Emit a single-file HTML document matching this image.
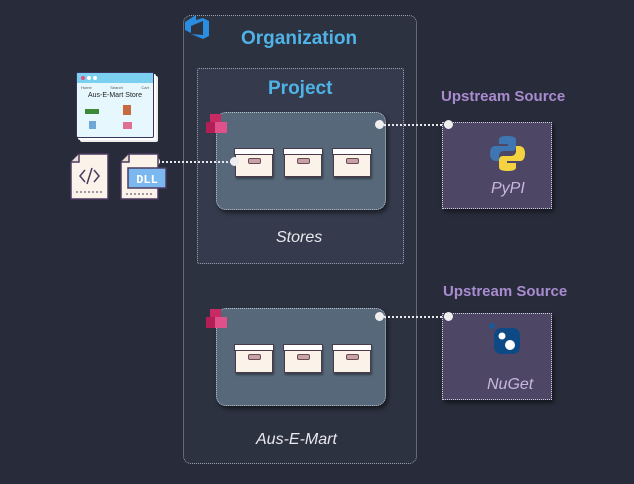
<!DOCTYPE html>
<html><head><style>
body{margin:0;width:634px;height:484px;background:#282c3a;position:relative;overflow:hidden;font-family:"Liberation Sans",sans-serif}
.a{position:absolute;box-sizing:border-box}
.org{left:183px;top:15px;width:234px;height:449px;border:1px dotted #9aa0ad;border-radius:8px;background:#2d3241}
.proj{left:197px;top:68px;width:207px;height:196px;border:1px dotted #9aa0ad;background:#353b4c;border-radius:2px}
.feed{width:170px;height:98px;background:#56687a;border:1px dotted #b8c0c8;border-radius:10px;box-shadow:2px 3px 4px rgba(0,0,0,.5)}
.up{width:110px;height:87px;background:#4e4665;border:1px dotted #cfcfdf;box-shadow:2px 3px 4px rgba(0,0,0,.5)}
.t{position:absolute;font-weight:bold;color:#4fb3e8;font-size:19px}
.ut{position:absolute;font-weight:bold;color:#a98bd0;font-size:15px}
.it{position:absolute;font-style:italic;color:#e8e8ee;font-size:16px}
.box{position:absolute;width:36px;height:27px;background:#fbf3ea;border:1px solid #4a3a4a;box-shadow:1px 2px 2px rgba(0,0,0,.4)}
.box:before{content:"";position:absolute;left:-2px;top:-1px;width:38px;height:5px;background:#fff;border:1px solid #4a3a4a}
.box:after{content:"";position:absolute;left:12px;top:9px;width:11px;height:4px;background:#c9a2a8;border:1px solid #6a4a55;border-radius:2px}
.line{position:absolute;border-top:2px dotted #e8e8ee;height:0}
.dot{position:absolute;width:9px;height:9px;border-radius:50%;background:#eee}
.pk{position:absolute;width:21px;height:20px}
</style></head><body>
<div class="a org"></div>
<svg class="a" style="left:181px;top:12px" width="34" height="30"><path d="M4 10 L15 3 L15 8 L22 6 L28 9 L28 24 L22 27 L10 22 L22 23 L22 9 L10 14 L10 21 L4 18Z" fill="#2a8de0"/></svg>
<div class="t" style="left:241px;top:28px">Organization</div>
<div class="a proj"></div>
<div class="t" style="left:268px;top:78px">Project</div>
<div class="a feed" style="left:216px;top:112px"></div>
<div class="a feed" style="left:216px;top:308px"></div>
<div class="it" style="left:276px;top:229px">Stores</div>
<div class="it" style="left:256px;top:431px">Aus-E-Mart</div>
<div class="box" style="left:235px;top:148px"></div><div class="box" style="left:284px;top:148px"></div><div class="box" style="left:333px;top:148px"></div>
<div class="box" style="left:235px;top:344px"></div><div class="box" style="left:284px;top:344px"></div><div class="box" style="left:333px;top:344px"></div>
<svg class="pk" style="left:206px;top:114px"><rect x="4" y="0" width="11" height="9" fill="#c92a63"/><rect x="0" y="8" width="10" height="11" fill="#b21f55"/><rect x="9" y="8" width="12" height="11" fill="#e0508a"/></svg>
<svg class="pk" style="left:206px;top:309px"><rect x="4" y="0" width="11" height="9" fill="#c92a63"/><rect x="0" y="8" width="10" height="11" fill="#b21f55"/><rect x="9" y="8" width="12" height="11" fill="#e0508a"/></svg>
<div class="ut" style="left:441px;top:88px">Upstream Source</div>
<div class="ut" style="left:443px;top:283px">Upstream Source</div>
<div class="a up" style="left:442px;top:122px"></div>
<div class="a up" style="left:442px;top:313px"></div>
<div class="line" style="left:380px;top:124px;width:66px"></div><div class="dot" style="left:375px;top:120px"></div><div class="dot" style="left:444px;top:120px"></div>
<div class="line" style="left:380px;top:316px;width:66px"></div><div class="dot" style="left:375px;top:312px"></div><div class="dot" style="left:444px;top:312px"></div>
<div class="line" style="left:155px;top:161px;width:80px"></div><div class="dot" style="left:151px;top:157px"></div><div class="dot" style="left:230px;top:157px"></div>
<svg class="a" style="left:488px;top:134px" width="40" height="40"><path d="M19 2 C10 2 11 6 11 6 L11 10 L20 10 L20 12 L7 12 C3 12 2 16 2 20 C2 25 5 27 8 27 L11 27 L11 22 C11 19 13 17 16 17 L24 17 C27 17 28 15 28 12 L28 6 C28 3 25 2 19 2Z" fill="#3d76b0"/><path d="M20 37 C29 37 28 33 28 33 L28 29 L19 29 L19 27 L32 27 C36 27 37 23 37 19 C37 14 34 12 31 12 L28 12 L28 17 C28 20 26 22 23 22 L15 22 C12 22 11 24 11 27 L11 33 C11 36 14 37 20 37Z" fill="#f5d340"/></svg>
<div class="it" style="left:491px;top:180px;color:#c8b8e0">PyPI</div>
<svg class="a" style="left:488px;top:322px" width="40" height="40"><circle cx="4" cy="4" r="3" fill="#1a5a9a"/><rect x="6" y="6" width="26" height="26" rx="7" fill="#0d4a85"/><circle cx="14" cy="14" r="3.5" fill="#fff"/><circle cx="22" cy="23" r="5" fill="#fff"/></svg>
<div class="it" style="left:487px;top:376px;color:#c8b8e0">NuGet</div>
<div class="a" style="left:78px;top:74px;width:78px;height:66px;background:#fff;border-radius:2px;box-shadow:2px 2px 0 #eee"></div>
<div class="a" style="left:76px;top:72px;width:78px;height:66px;background:#e6f8fd;border:1.5px solid #3a3560;border-radius:2px">
<div style="height:10px;background:#7bd0ef;position:relative"><span style="position:absolute;left:4px;top:3px;width:4px;height:4px;border-radius:50%;background:#e05080"></span><span style="position:absolute;left:10px;top:3px;width:4px;height:4px;border-radius:50%;background:#fff"></span><span style="position:absolute;left:16px;top:3px;width:4px;height:4px;border-radius:50%;background:#fff"></span></div>
<div style="font-size:4px;color:#555;padding:2px 4px;display:flex;justify-content:space-between"><span>Home</span><span>Search</span><span>Cart</span></div>
<div style="font-size:7px;text-align:center;color:#222">Aus-E-Mart Store</div>
<div style="position:absolute;left:8px;top:36px;width:14px;height:5px;background:#3a8a3a"></div>
<div style="position:absolute;left:46px;top:32px;width:8px;height:10px;background:#c86a40"></div>
<div style="position:absolute;left:12px;top:48px;width:7px;height:8px;background:#6fa8d8"></div>
<div style="position:absolute;left:46px;top:49px;width:9px;height:7px;background:#e07090"></div>
</div>
<svg class="a" style="left:68px;top:152px" width="44" height="50"><path d="M11 2 L40 2 L40 47 L3 47 L3 10Z" fill="#fbf3ea" stroke="#4a3a60" stroke-width="1.5"/><path d="M3 10 L11 10 L11 2" fill="#e8ddd0" stroke="#4a3a60" stroke-width="1.5"/><path d="M17 18 L12 24 L17 30 M26 18 L31 24 L26 30 M24 16 L19 32" stroke="#4a3a60" stroke-width="1.5" fill="none"/><line x1="8" y1="40" x2="36" y2="40" stroke="#4a3a60" stroke-dasharray="2 2"/></svg>
<svg class="a" style="left:118px;top:152px" width="52" height="50"><path d="M11 2 L40 2 L40 47 L3 47 L3 10Z" fill="#fbf3ea" stroke="#4a3a60" stroke-width="1.5"/><path d="M3 10 L11 10 L11 2" fill="#e8ddd0" stroke="#4a3a60" stroke-width="1.5"/><rect x="10" y="16" width="38" height="20" fill="#7bb8ef" stroke="#4a3a60" stroke-width="1.5"/><text x="29" y="31" font-family="Liberation Mono" font-weight="bold" font-size="12" fill="#fff" text-anchor="middle">DLL</text><line x1="8" y1="42" x2="34" y2="42" stroke="#4a3a60" stroke-dasharray="2 2"/></svg>
</body></html>
